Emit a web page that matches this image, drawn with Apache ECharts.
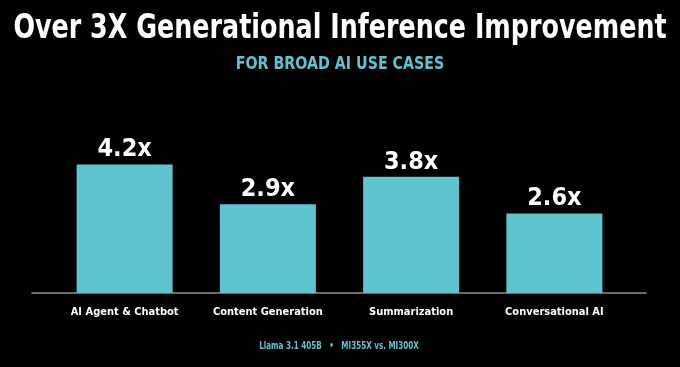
<!DOCTYPE html>
<html>
<head>
<meta charset="utf-8">
<script src="https://cdn.jsdelivr.net/npm/echarts@6/dist/echarts.min.js"></script>
<style>
html,body{margin:0;padding:0;background:#000;}
#c{width:680px;height:367px;}
</style>
</head>
<body>
<div id="c"></div>
<script>
var titleText = 'Over 3X Generational Inference Improvement';
var subtitleText = 'FOR BROAD AI USE CASES';
var footerText = 'Llama 3.1 405B   •   MI355X vs. MI300X';
var categories = ['AI Agent & Chatbot', 'Content Generation', 'Summarization', 'Conversational AI'];
var speedups = [4.2, 2.9, 3.8, 2.6];

var FONT = "'DejaVu Sans Condensed', 'DejaVu Sans', sans-serif";
var TEAL = '#5ec4cf';

var chart = echarts.init(document.getElementById('c'), null, {renderer: 'canvas'});
chart.setOption({
  backgroundColor: '#000',
  animation: false,
  graphic: [
    {type: 'text', x: 340, y: 29, scaleX: 0.83,
     style: {text: titleText, x: 0, y: 0, textAlign: 'center', textVerticalAlign: 'middle',
             fill: '#fff', font: "bold 34px " + FONT}},
    {type: 'text', x: 340, y: 64, scaleX: 0.88,
     style: {text: subtitleText, x: 0, y: 0, textAlign: 'center', textVerticalAlign: 'middle',
             fill: TEAL, font: "bold 18px " + FONT}},
    {type: 'text', x: 339, y: 346, scaleX: 0.8,
     style: {text: footerText, x: 0, y: 0, textAlign: 'center', textVerticalAlign: 'middle',
             fill: TEAL, font: "bold 10px " + FONT}}
  ],
  grid: [
    {left: 53, right: 54, top: 140, bottom: 74},
    {left: 32, right: 34, top: 140, bottom: 74}
  ],
  xAxis: [
    {type: 'category', gridIndex: 0, data: categories,
     axisLine: {show: false}, axisTick: {show: false},
     axisLabel: {interval: 0, color: '#fff', fontFamily: FONT, fontWeight: 'bold', fontSize: 11, margin: 14}},
    {type: 'value', gridIndex: 1, min: 0, max: 1,
     axisLine: {show: true, lineStyle: {color: '#8e8e8e', width: 1.5}},
     axisTick: {show: false}, axisLabel: {show: false}, splitLine: {show: false}}
  ],
  yAxis: [
    {type: 'value', gridIndex: 0, min: 0, max: 5, show: false},
    {type: 'value', gridIndex: 1, min: 0, max: 5, show: false}
  ],
  series: [{
    type: 'bar',
    xAxisIndex: 0, yAxisIndex: 0,
    data: speedups,
    barWidth: 96,
    itemStyle: {color: TEAL},
    label: {show: true, position: 'top', distance: 2,
      formatter: function(p){ return p.value.toFixed(1) + 'x'; },
      color: '#fff', fontFamily: FONT, fontWeight: 'bold', fontSize: 25}
  }]
});
</script>
</body>
</html>
